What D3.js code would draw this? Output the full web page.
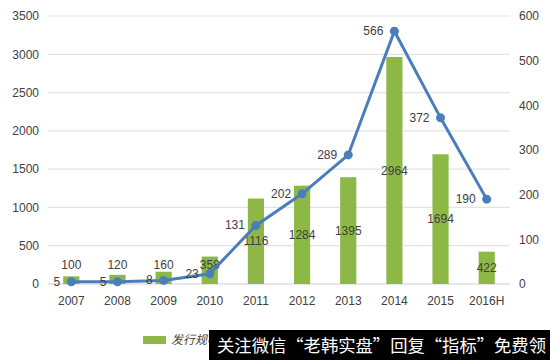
<!DOCTYPE html>
<html>
<head>
<meta charset="utf-8">
<script src="https://cdn.jsdelivr.net/npm/d3@7"></script>
<style>
body { margin: 0; background: #fff; }
svg text { font-family: "Liberation Sans Narrow", "Liberation Sans", sans-serif; fill: #404040; }
</style>
</head>
<body>
<svg></svg>
<script>
const size = { w: 550, h: 360 };
const margin = { t: 16, r: 40, b: 76, l: 48 };

const years = ["2007", "2008", "2009", "2010", "2011", "2012", "2013", "2014", "2015", "2016H"];
const amounts = [100, 120, 160, 358, 1116, 1284, 1395, 2964, 1694, 422];
const counts = [5, 5, 8, 23, 131, 202, 289, 566, 372, 190];
const leftTicks = [0, 500, 1000, 1500, 2000, 2500, 3000, 3500];
const rightTicks = [0, 100, 200, 300, 400, 500, 600];

const svg = d3.select("svg").attr("width", size.w).attr("height", size.h);

const x = d3.scaleBand()
	.domain(years)
	.range([margin.l, size.w - margin.r])
	.paddingInner(0.65)
	.paddingOuter(0.33);
const yL = d3.scaleLinear().domain([0, 3500]).range([size.h - margin.b, margin.t]);
const yR = d3.scaleLinear().domain([0, 600]).range([size.h - margin.b, margin.t]);
const cx = d => x(d) + x.bandwidth() / 2;

// gridlines
svg.append("g")
	.selectAll("line")
	.data(leftTicks)
	.enter()
	.append("line")
	.attr("x1", margin.l)
	.attr("x2", size.w - margin.r)
	.attr("y1", d => yL(d))
	.attr("y2", d => yL(d))
	.attr("stroke", d => d === 0 ? "#d0d0d0" : "#e3e3e3")
	.attr("stroke-width", 1.2);

// axes
let leftAxis = svg.append("g")
	.attr("transform", `translate(${margin.l},0)`)
	.call(d3.axisLeft(yL).tickValues(leftTicks).tickFormat(d3.format("d")).tickSize(0).tickPadding(9));
let rightAxis = svg.append("g")
	.attr("transform", `translate(${size.w - margin.r},0)`)
	.call(d3.axisRight(yR).tickValues(rightTicks).tickFormat(d3.format("d")).tickSize(0).tickPadding(9));
let bottomAxis = svg.append("g")
	.attr("transform", `translate(0,${size.h - margin.b})`)
	.call(d3.axisBottom(x).tickSize(0).tickPadding(12));
[leftAxis, rightAxis, bottomAxis].forEach(g => {
	g.select(".domain").remove();
	g.selectAll("text").style("font-size", "12px").attr("fill", "#404040");
});

// bars
svg.append("g")
	.selectAll("rect")
	.data(amounts)
	.enter()
	.append("rect")
	.attr("x", (d, i) => x(years[i]))
	.attr("width", x.bandwidth())
	.attr("y", d => yL(d))
	.attr("height", d => yL(0) - yL(d))
	.attr("fill", "#8db846");

// bar labels
svg.append("g")
	.selectAll("text")
	.data(amounts)
	.enter()
	.append("text")
	.attr("x", (d, i) => cx(years[i]))
	.attr("y", d => d < 400 ? yL(0) - 15 : (yL(d) + yL(0)) / 2 + 4)
	.attr("text-anchor", "middle")
	.style("font-size", "12px")
	.text(d => d);

// line
const line = d3.line()
	.x((d, i) => cx(years[i]))
	.y(d => yR(d));
svg.append("path")
	.datum(counts)
	.attr("d", line)
	.attr("fill", "none")
	.attr("stroke", "#4a7ebb")
	.attr("stroke-width", 3);
svg.append("g")
	.selectAll("circle")
	.data(counts)
	.enter()
	.append("circle")
	.attr("cx", (d, i) => cx(years[i]))
	.attr("cy", d => yR(d))
	.attr("r", 4.5)
	.attr("fill", "#4a7ebb");

svg.append("g")
	.selectAll("text")
	.data(counts)
	.enter()
	.append("text")
	.attr("x", (d, i) => cx(years[i]) - 11)
	.attr("y", d => yR(d) + 4)
	.attr("text-anchor", "end")
	.style("font-size", "12px")
	.text(d => d);

// legend
svg.append("rect")
	.attr("x", 143).attr("y", 336).attr("width", 23).attr("height", 8)
	.attr("fill", "#8db846");
svg.append("text")
	.attr("x", 171).attr("y", 344)
	.style("font-size", "12px")
	.style("font-style", "italic")
	.style("font-family", "'Noto Sans CJK SC', sans-serif")
	.text("发行规模");

// watermark banner
svg.append("rect")
	.attr("x", 209).attr("y", 330).attr("width", 341).attr("height", 30)
	.attr("fill", "#000");
svg.append("text")
	.attr("x", 217).attr("y", 352)
	.attr("textLength", 329)
	.attr("lengthAdjust", "spacingAndGlyphs")
	.style("font-size", "17px")
	.style("font-family", "'Noto Sans CJK SC', sans-serif")
	.style("fill", "#fff")
	.text("关注微信“老韩实盘”回复“指标”免费领");
</script>
</body>
</html>
